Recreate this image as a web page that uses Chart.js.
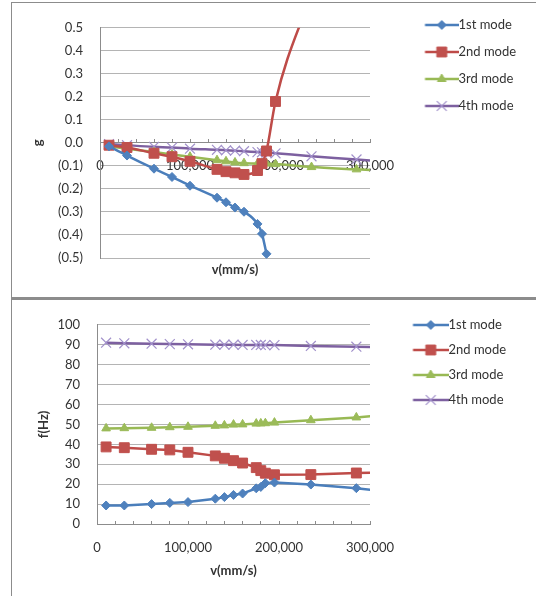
<!DOCTYPE html>
<html>
<head>
<meta charset="utf-8">
<script src="https://cdn.jsdelivr.net/npm/chart.js@4.4.1/dist/chart.umd.min.js"></script>
<style>
html, body { margin: 0; padding: 0; background: #fff; overflow: hidden; width: 536px; height: 596px; }
.panel { position: absolute; left: 11px; width: 600px; border: 1px solid #8c8c8c; background: #fff; }
#p1 { top: 2px; height: 294px; }
#p2 { top: 298px; height: 310px; border-top-width: 2px; }
canvas { position: absolute; left: 0; top: 0; }
</style>
</head>
<body>
<div class="panel" id="p1"><canvas id="gChart" width="524" height="294"></canvas></div>
<div class="panel" id="p2"><canvas id="fChart" width="524" height="296"></canvas></div>
<script>
// flow speed v (mm/s); the last one lies past the 300,000 axis end
const speeds = [10000, 30000, 60000, 80000, 100000, 130000, 140000, 150000, 160000, 175000, 180000, 185000, 195000, 235000, 285000, 335000];
const modeNames = ['1st mode', '2nd mode', '3rd mode', '4th mode'];

// damping g, top chart (null = not readable, off the plot)
const g1st = [-0.015, -0.055, -0.112, -0.148, -0.186, -0.238, -0.258, -0.281, -0.299, -0.352, -0.395, -0.482, null, null, null, null];
const g2nd = [-0.010, -0.020, -0.045, -0.060, -0.080, -0.115, -0.125, -0.130, -0.137, -0.120, -0.090, -0.035, 0.180, 0.650, null, null];
const g3rd = [-0.015, -0.025, -0.040, -0.050, -0.060, -0.075, -0.080, -0.085, -0.088, -0.090, -0.090, -0.090, -0.092, -0.105, -0.115, -0.125];
const g4th = [-0.005, -0.010, -0.017, -0.020, -0.025, -0.030, -0.032, -0.034, -0.036, -0.040, -0.041, -0.042, -0.045, -0.058, -0.072, -0.088];

// frequency f (Hz), bottom chart
const f1st = [9.3, 9.3, 10.0, 10.6, 11.0, 12.7, 13.5, 14.6, 15.3, 17.9, 18.6, 20.5, 20.8, 19.8, 18.0, 15.2];
const f2nd = [38.7, 38.3, 37.5, 37.2, 36.0, 34.2, 33.0, 31.8, 30.6, 28.3, 26.8, 25.5, 24.7, 24.8, 25.6, 26.0];
const f3rd = [48.0, 48.1, 48.3, 48.6, 48.8, 49.3, 49.5, 49.9, 50.0, 50.4, 50.5, 50.6, 50.9, 52.1, 53.5, 55.3];
const f4th = [91.0, 90.7, 90.5, 90.3, 90.2, 90.0, 90.0, 90.0, 89.9, 89.9, 89.9, 89.8, 89.8, 89.4, 89.0, 88.6];

// axis ranges / tick labels
const xRange = [0, 300000];
const xLabelStep = 100000;
const gRange = [-0.5, 0.5];
const fRange = [0, 100];

// styles
const lineColors = ['#4a7ebb', '#be4b48', '#98b954', '#7d60a0'];
const markerColors = ['#4f81bd', '#c0504d', '#9bbb59', '#a291cb'];
const markerStyles = ['rectRot', 'rect', 'triangle', 'crossRot'];
const markerSizes = [4.5, 7, 5, 7];
const textColor = '#333333';
const gridColor = '#b4b4b4';
const axisColor = '#8c8c8c';

Chart.defaults.font.family = 'Lato';
Chart.defaults.font.size = 13;
Chart.defaults.color = textColor;

// legend sample: line with the series marker in the middle of it
function legendSample(i, w, lineFrom) {
    let c = document.createElement('canvas');
    c.width = w;
    c.height = 18;
    let ctx = c.getContext('2d');
    ctx.strokeStyle = lineColors[i];
    ctx.lineWidth = 2.5;
    ctx.beginPath();
    ctx.moveTo(lineFrom, 9);
    ctx.lineTo(w, 9);
    ctx.stroke();
    ctx.fillStyle = markerColors[i];
    ctx.strokeStyle = markerColors[i];
    ctx.lineWidth = i === 3 ? 1.2 : 1;
    Chart.helpers.drawPoint(ctx, {pointStyle: markerStyles[i], radius: markerSizes[i], borderWidth: ctx.lineWidth, rotation: 0}, (lineFrom + w) / 2, 9);
    return c;
}

let mctx = document.createElement('canvas').getContext('2d');
mctx.font = 'normal 13px Lato';
let textW = Math.max(...modeNames.map(n => mctx.measureText(n).width));

function makeDatasets(series, smooth) {
    return series.map((vals, i) => ({
        label: modeNames[i],
        data: speeds.map((v, k) => ({x: v, y: vals[k]})),
        borderColor: lineColors[i],
        backgroundColor: markerColors[i],
        borderWidth: 2.5,
        pointStyle: markerStyles[i],
        pointRadius: markerSizes[i],
        pointBackgroundColor: markerColors[i],
        pointBorderColor: markerColors[i],
        pointBorderWidth: i === 3 ? 1.2 : 1,
        cubicInterpolationMode: smooth ? 'monotone' : 'default',
        tension: 0,
        spanGaps: false,
        clip: {left: 6, top: 0, right: 0, bottom: 6}
    }));
}

function makeLegend(boxW, pad, samples) {
    return {
        position: 'right',
        align: 'start',
        maxWidth: 300,
        labels: {
            usePointStyle: true,
            pointStyleWidth: boxW,
            padding: pad,
            color: textColor,
            font: {family: 'Lato', size: 13},
            generateLabels: chart => chart.data.datasets.map((ds, i) => ({
                text: ds.label, pointStyle: samples[i], datasetIndex: i, hidden: false, lineWidth: 0, fontColor: textColor
            }))
        }
    };
}

function xTickLabel(v) {
    return v % xLabelStep === 0 ? v.toLocaleString('en-US') : '';
}

function gTickLabel(v) {
    let s = Math.abs(v).toFixed(1);
    return v < -1e-9 ? '(' + s + ')' : s;
}

const titleFont = {family: 'Lato', size: 13, weight: 'bold'};

// x axis sits on y = 0; a second bare axis carries the title under the plot
function xScales(labelPad, titlePad) {
    return {
        x: {
            type: 'linear', position: {y: 0}, min: xRange[0], max: xRange[1], z: 1,
            ticks: {stepSize: 20000, autoSkip: false, maxRotation: 0, padding: labelPad, color: textColor, callback: xTickLabel},
            grid: {drawOnChartArea: false, tickLength: -4, color: axisColor},
            border: {color: axisColor}
        },
        x2: {
            type: 'linear', position: 'bottom', min: xRange[0], max: xRange[1],
            ticks: {display: false},
            grid: {display: false, drawTicks: false},
            border: {display: false},
            title: {display: true, text: 'v(mm/s)', font: titleFont, color: textColor, padding: {top: titlePad, bottom: 0}}
        }
    };
}

// ---- top chart: g ----
let gBox = 68, gPad = 14;
let gSamples = modeNames.map((n, i) => legendSample(i, gBox + 13, 47.5));
let gLegendW = gPad + gBox + 6.5 + textW + 10;

new Chart(document.getElementById('gChart'), {
    type: 'line',
    data: {datasets: makeDatasets([g1st, g2nd, g3rd, g4th], true)},
    options: {
        responsive: false,
        animation: false,
        events: [],
        layout: {padding: {left: 8, top: 1.5, right: 524 - 358 - gLegendW, bottom: 19.2}},
        plugins: {
            title: {display: true, text: '', font: {size: 10}, padding: {top: 0, bottom: 3.5}},
            legend: makeLegend(gBox, gPad, gSamples),
            tooltip: {enabled: false}
        },
        scales: Object.assign(xScales(19, 4.2), {
            y: {
                min: gRange[0], max: gRange[1],
                ticks: {stepSize: 0.1, autoSkip: false, padding: 17, color: textColor, callback: gTickLabel},
                grid: {drawTicks: false, color: gridColor},
                border: {color: axisColor},
                title: {display: true, text: 'g', font: titleFont, color: textColor, padding: {top: 10, bottom: 0}},
                afterFit: s => { s.width = 80; }
            }
        })
    }
});

// ---- bottom chart: f ----
let fBox = 60, fPad = 12;
let fSamples = modeNames.map((n, i) => legendSample(i, fBox + 13, 37.5));
let fLegendW = fPad + fBox + 6.5 + textW + 10;

new Chart(document.getElementById('fChart'), {
    type: 'line',
    data: {datasets: makeDatasets([f1st, f2nd, f3rd, f4th], false)},
    options: {
        responsive: false,
        animation: false,
        events: [],
        layout: {padding: {left: 8, top: 6.5, right: 524 - 358 - fLegendW, bottom: 17.2}},
        plugins: {
            title: {display: true, text: '', font: {size: 10}, padding: {top: 0, bottom: 0.5}},
            legend: makeLegend(fBox, fPad, fSamples),
            tooltip: {enabled: false}
        },
        scales: Object.assign(xScales(20, 39.2), {
            y: {
                min: fRange[0], max: fRange[1],
                ticks: {stepSize: 10, autoSkip: false, padding: 17, color: textColor},
                grid: {drawTicks: false, color: gridColor},
                border: {color: axisColor},
                title: {display: true, text: 'f(Hz)', font: titleFont, color: textColor, padding: {top: 16, bottom: 0}},
                afterFit: s => { s.width = 77; }
            }
        })
    }
});
</script>
</body>
</html>
